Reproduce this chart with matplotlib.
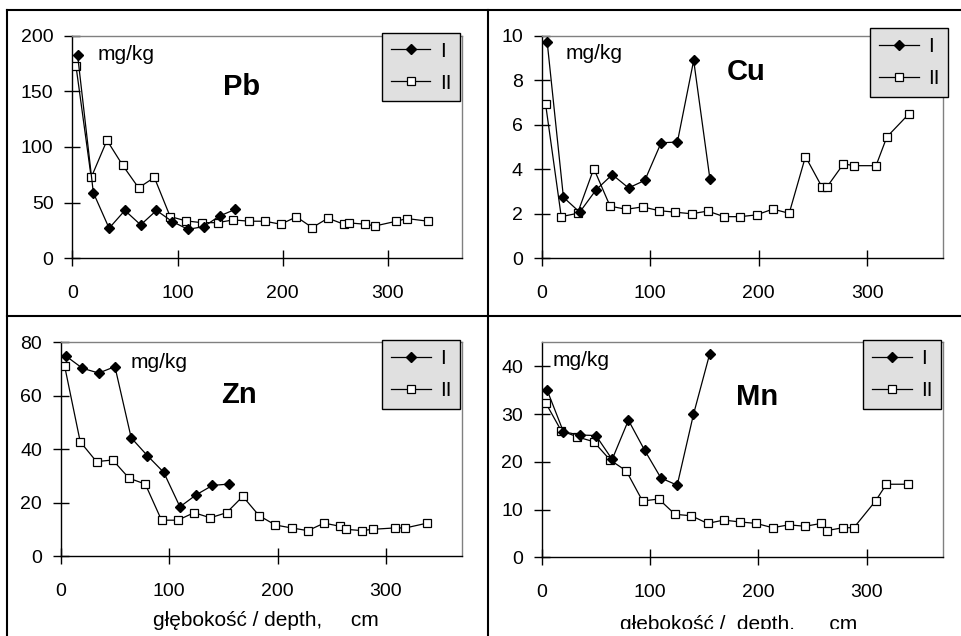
import matplotlib
matplotlib.use('Agg')
import matplotlib.pyplot as plt
from matplotlib.lines import Line2D
from matplotlib.transforms import Bbox

plt.rcParams['font.family'] = ['Liberation Sans', 'DejaVu Sans']

# depths (cm) of the two profiles
depth_I = [5, 20, 35, 50, 65, 80, 95, 110, 125, 140, 155]
depth_II = [3.5, 18, 33, 48, 63, 78, 93, 108, 123, 138, 153, 168, 183, 198,
            213, 228, 243, 258, 263, 278, 288, 308, 318, 338]

# concentrations, mg/kg
pb_I = [183, 59, 27, 43, 30, 43, 33, 26, 28.5, 38, 44]
pb_II = [173, 72.6, 106, 83.4, 63.3, 72.6, 37.5, 33.6, 32, 32, 34.5, 33.3,
         33.3, 30.6, 37.2, 27.6, 36, 30.6, 31.8, 30.6, 29.1, 33.3, 35.7, 33.3]

cu_I = [9.73, 2.74, 2.07, 3.07, 3.76, 3.16, 3.5, 5.19, 5.22, 8.89, 3.55]
cu_II = [6.95, 1.87, 2.02, 4.03, 2.34, 2.2, 2.31, 2.14, 2.07, 2.0, 2.12, 1.87,
         1.87, 1.95, 2.21, 2.02, 4.57, 3.22, 3.22, 4.24, 4.16, 4.16, 5.45, 6.47]

zn_I = [74.8, 70.3, 68.5, 70.9, 44.3, 37.6, 31.4, 18.5, 23, 26.5, 27]
zn_II = [71.3, 42.8, 35.4, 36, 29.2, 27, 13.5, 13.5, 16.3, 14.4, 16.3, 22.4,
         15.2, 11.7, 10.6, 9.6, 12.4, 11.2, 10.1, 9.6, 10.1, 10.6, 10.6, 12.4]

mn_I = [35.0, 26.3, 25.6, 25.5, 20.5, 28.7, 22.4, 16.6, 15.1, 29.9, 42.6]
mn_II = [32.4, 26.5, 25.2, 24.2, 20.4, 18.1, 11.8, 12.2, 9.0, 8.7, 7.1, 7.8,
         7.4, 7.1, 6.2, 6.8, 6.5, 7.1, 5.6, 6.2, 6.2, 11.8, 15.3, 15.3]

fig = plt.figure(figsize=(9.61, 6.36), dpi=100)

# (name, I, II, axes rect, ymax, ystep, mg/kg pos, name pos, legend anchor)
panels = [
    ('Pb', pb_I, pb_II, [0.0752, 0.5939, 0.4052, 0.350], 200, 50,
     (24, 183), (161, 154), (0.996, 1.012)),
    ('Cu', cu_I, cu_II, [0.5637, 0.5939, 0.4179, 0.350], 10, 2,
     (22, 9.2), (188, 8.38), (1.012, 1.033)),
    ('Zn', zn_I, zn_II, [0.0632, 0.1253, 0.4173, 0.3365], 80, 20,
     (64, 72.3), (164, 60.2), (0.996, 1.009)),
    ('Mn', mn_I, mn_II, [0.5637, 0.1237, 0.4173, 0.338], 45, 10,
     (10, 41.2), (199, 33.5), (0.996, 1.009)),
]

for name, s1, s2, rect, ymax, ystep, unit_pos, name_pos, leg_pos in panels:
    ax = fig.add_axes(rect)
    l1, = ax.plot(depth_I, s1, color='black', lw=0.9, marker='D',
                  markersize=5.5, markerfacecolor='black', zorder=4)
    l2, = ax.plot(depth_II, s2, color='black', lw=0.9, marker='s',
                  markersize=6, markerfacecolor='white',
                  markeredgecolor='black', markeredgewidth=0.9, zorder=3)
    ax.set_xlim(0, 370)
    ax.set_ylim(0, ymax)
    ax.set_xticks([0, 100, 200, 300])
    ax.set_yticks(list(range(0, int(ymax) + 1, ystep)))
    ax.tick_params(direction='inout', length=11, width=1, labelsize=14,
                   colors='black')
    ax.tick_params(axis='x', pad=14)
    ax.tick_params(axis='y', pad=8)
    for side in ('top', 'right'):
        ax.spines[side].set_color('#808080')
        ax.spines[side].set_linewidth(1)
    for side in ('left', 'bottom'):
        ax.spines[side].set_linewidth(1)
    ax.text(unit_pos[0], unit_pos[1], 'mg/kg', fontsize=15,
            ha='left', va='center')
    ax.text(name_pos[0], name_pos[1], name, fontsize=21, fontweight='bold',
            ha='center', va='center')
    leg = ax.legend([l1, l2], ['I', 'II'], loc='upper right',
                    bbox_to_anchor=leg_pos, borderaxespad=0, fancybox=False,
                    edgecolor='black', facecolor='#e0e0e0', framealpha=1,
                    fontsize=15, handlelength=1.9, handletextpad=0.45,
                    labelspacing=0.62, borderpad=0.42)
    leg.get_frame().set_linewidth(1)
    leg.set_zorder(10)

# x axis captions under the lower panels
fig.text(152.7 / 961, 1 - 626 / 636, 'głębokość / depth,     cm',
         fontsize=15, ha='left', va='baseline')
cap = fig.text(620 / 961, 1 - 630 / 636, 'głębokość /  depth,      cm',
               fontsize=15, ha='left', va='baseline')
cap.set_clip_box(Bbox.from_extents(480, 7, 961, 100))
cap.set_clip_on(True)

# frame lines between the panels
frame = [
    ([7 / 961, 1], [1 - 10 / 636, 1 - 10 / 636]),
    ([7 / 961, 7 / 961], [0, 1 - 10 / 636]),
    ([488 / 961, 488 / 961], [0, 1 - 10 / 636]),
    ([7 / 961, 1], [1 - 316 / 636, 1 - 316 / 636]),
]
for xs, ys in frame:
    fig.add_artist(Line2D(xs, ys, transform=fig.transFigure,
                          color='black', lw=1.5))

fig.savefig('out.png', dpi=100)
